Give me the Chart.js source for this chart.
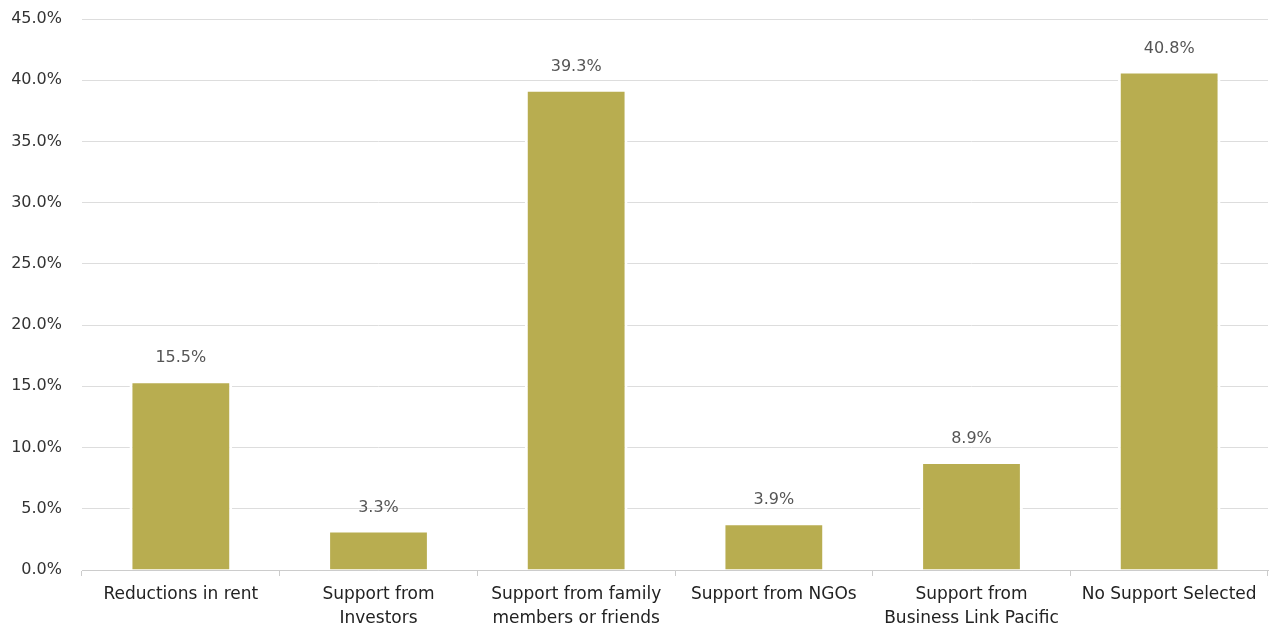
<!DOCTYPE html>
<html>
<head>
<meta charset="utf-8">
<script src="https://cdn.jsdelivr.net/npm/chart.js@4/dist/chart.umd.min.js"></script>
<style>
  html, body { margin: 0; padding: 0; background: #fff; }
  .chart-box { width: 1274px; height: 630px; position: relative; }
</style>
</head>
<body>
<div class="chart-box"><canvas id="chart"></canvas></div>
<script>
// categories (wrapped the way the picture wraps them)
const categories = [
    "Reductions in rent",
    ["Support from", "Investors"],
    ["Support from family", "members or friends"],
    "Support from NGOs",
    ["Support from", "Business Link Pacific"],
    "No Support Selected"
];
const shares = [15.5, 3.3, 39.3, 3.9, 8.9, 40.8];
const yTicks = [0, 5, 10, 15, 20, 25, 30, 35, 40, 45];

const fontFamily = "'DejaVu Sans', sans-serif";

// draws the percentage above each bar
const valueLabels = {
    id: 'valueLabels',
    afterDatasetsDraw(chart) {
        const { ctx } = chart;
        const meta = chart.getDatasetMeta(0);
        ctx.save();
        ctx.font = "16px " + fontFamily;
        ctx.fillStyle = '#555';
        ctx.textAlign = 'center';
        ctx.textBaseline = 'middle';
        meta.data.forEach((bar, i) => {
            ctx.fillText(shares[i].toFixed(1) + '%', bar.x, bar.y - 22);
        });
        ctx.restore();
    }
};

new Chart(document.getElementById('chart'), {
    type: 'bar',
    data: {
        labels: categories,
        datasets: [{
            data: shares,
            backgroundColor: '#b8ad50',
            borderColor: '#ffffff',
            borderWidth: 3,
            barPercentage: 0.52,
            categoryPercentage: 1
        }]
    },
    options: {
        responsive: true,
        maintainAspectRatio: false,
        animation: false,
        layout: { padding: { top: 19, right: 6, left: 8, bottom: 0 } },
        plugins: {
            legend: { display: false },
            tooltip: { enabled: false }
        },
        scales: {
            x: {
                afterFit(axis) {
                    axis.height = 60;
                },
                grid: {
                    offset: true,
                    drawOnChartArea: false,
                    drawTicks: true,
                    tickLength: 6,
                    color: '#cccccc'
                },
                border: { display: true, color: '#cccccc', width: 1 },
                ticks: {
                    color: '#222',
                    font: { family: fontFamily, size: 17, lineHeight: 1.4 },
                    maxRotation: 0,
                    autoSkip: false,
                    padding: 7
                }
            },
            y: {
                min: 0,
                max: 45,
                afterBuildTicks(axis) {
                    axis.ticks = yTicks.map(v => ({ value: v }));
                },
                afterFit(axis) {
                    axis.width = 74;
                    axis.paddingTop = 0;
                    axis.paddingBottom = 0;
                },
                grid: { color: '#dddddd', drawTicks: false },
                border: { display: false },
                ticks: {
                    color: '#333',
                    font: { family: fontFamily, size: 16 },
                    padding: 20,
                    callback: v => v.toFixed(1) + '%'
                }
            }
        }
    },
    plugins: [valueLabels]
});
</script>
</body>
</html>
